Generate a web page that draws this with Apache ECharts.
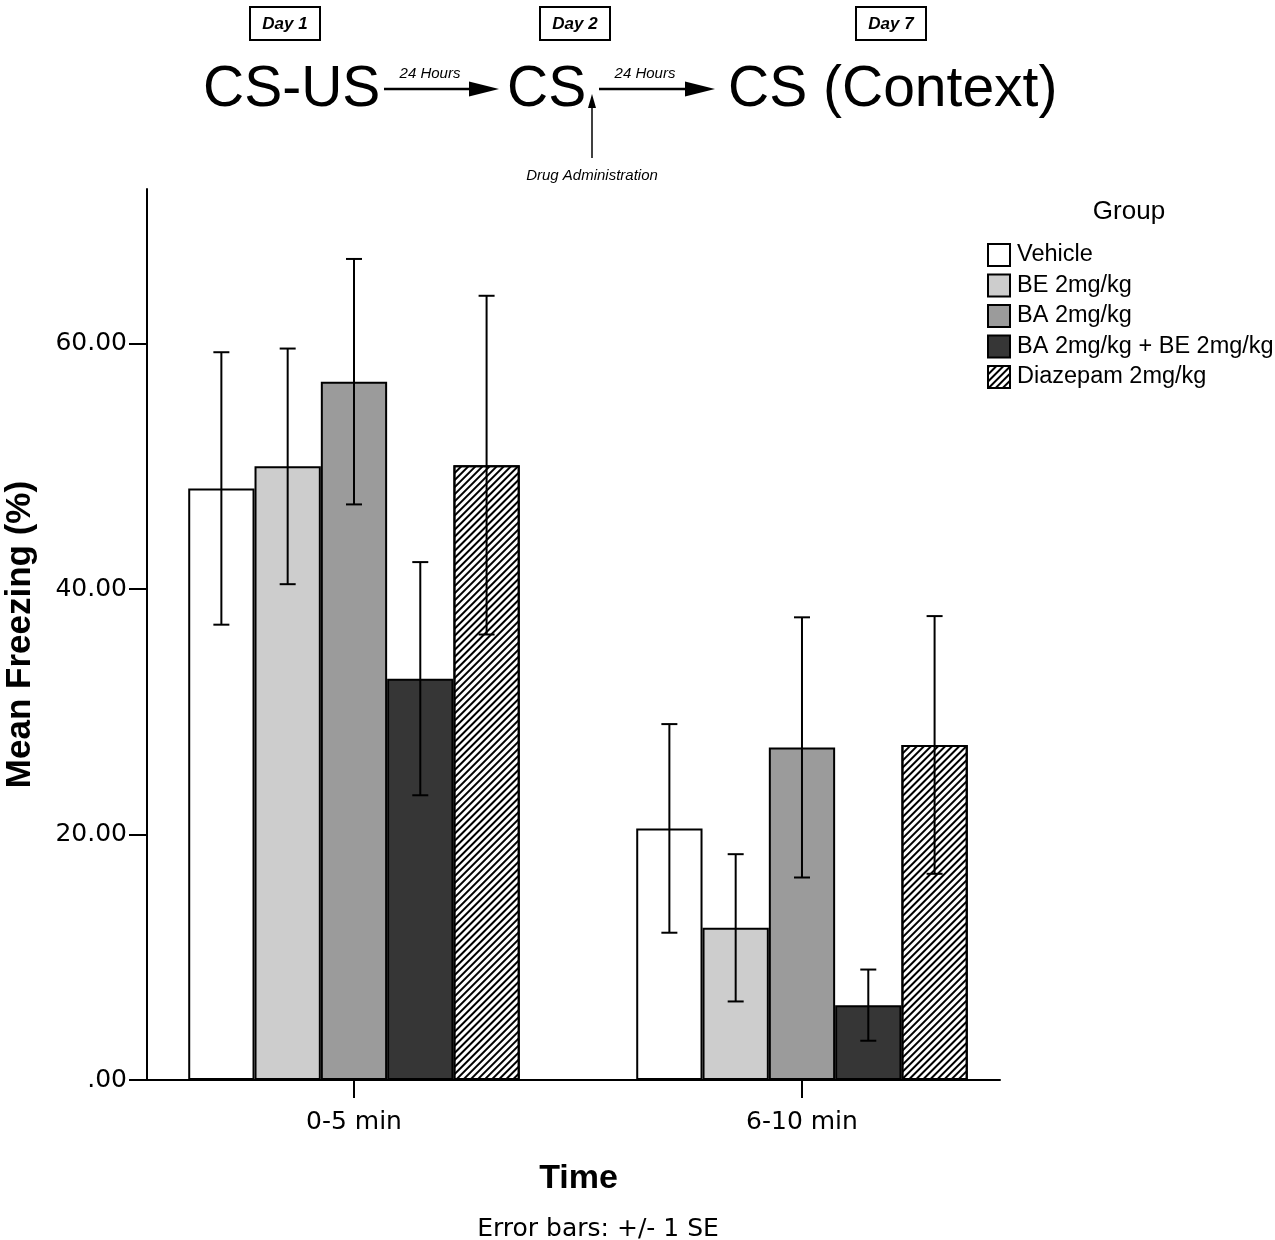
<!DOCTYPE html>
<html>
<head>
<meta charset="utf-8">
<title>Mean Freezing</title>
<script src="https://cdn.jsdelivr.net/npm/echarts@6/dist/echarts.min.js"></script>
<style>
  html, body { margin: 0; padding: 0; background: #fff; }
  #chart { width: 1275px; height: 1240px; }
</style>
</head>
<body>
<div id="chart"></div>
<script>
// ─── data ───
const timeBins = ['0-5 min', '6-10 min'];
const groups = ['Vehicle', 'BE 2mg/kg', 'BA 2mg/kg', 'BA 2mg/kg + BE 2mg/kg', 'Diazepam 2mg/kg'];

const vehicleMean = [48.2, 20.5];
const beMean = [50.0, 12.4];
const baMean = [56.9, 27.1];
const comboMean = [32.7, 6.1];
const diazepamMean = [50.1, 27.3];

const vehicleSE = [11.1, 8.5];
const beSE = [9.6, 6.0];
const baSE = [10.0, 10.6];
const comboSE = [9.5, 2.9];
const diazepamSE = [13.8, 10.5];

const yTicks = [0, 20, 40, 60];

// ─── style ───
const SANS = "'Liberation Sans', Arial, sans-serif";
const WIDE = "'DejaVu Sans', sans-serif";
const FILLS = ['#ffffff', '#cdcdcd', '#9b9b9b', '#363636', '#ffffff'];
const GAP = 0.26;           // barCategoryGap
const NG = groups.length;

const means = [vehicleMean, beMean, baMean, comboMean, diazepamMean];
const ses = [vehicleSE, beSE, baSE, comboSE, diazepamSE];

const hatch = {
  symbol: 'rect',
  symbolSize: 1,
  color: '#000',
  dashArrayX: [1, 0],
  dashArrayY: [2, 3],
  rotation: -Math.PI / 4,
};

function errorItem(gi) {
  return function (params, api) {
    const x = api.value(0), m = api.value(1), se = api.value(2);
    const band = api.size([1, 0])[0];
    const barW = band * (1 - GAP) / NG;
    const cx = api.coord([x, m])[0] + (gi - (NG - 1) / 2) * barW;
    const top = api.coord([x, m + se])[1];
    const bot = api.coord([x, m - se])[1];
    const half = 8;
    const style = { stroke: '#000', lineWidth: 2 };
    return {
      type: 'group',
      children: [
        { type: 'line', shape: { x1: cx, y1: top, x2: cx, y2: bot }, style },
        { type: 'line', shape: { x1: cx - half, y1: top, x2: cx + half, y2: top }, style },
        { type: 'line', shape: { x1: cx - half, y1: bot, x2: cx + half, y2: bot }, style },
      ],
    };
  };
}

const barSeries = groups.map((name, gi) => ({
  name,
  type: 'bar',
  barGap: '0%',
  barCategoryGap: (GAP * 100) + '%',
  data: timeBins.map((_, ti) => [ti, means[gi][ti]]),
  itemStyle: {
    color: FILLS[gi],
    borderColor: '#000',
    borderWidth: 2,
    decal: gi === 4 ? hatch : undefined,
  },
  emphasis: { disabled: true },
}));

const errSeries = groups.map((name, gi) => ({
  type: 'custom',
  name: name + ' SE',
  z: 5,
  renderItem: errorItem(gi),
  data: timeBins.map((_, ti) => [ti, means[gi][ti], ses[gi][ti]]),
  encode: { x: 0, y: 1 },
}));

// ─── top schematic ───
function dayBox(cx, label) {
  return [
    { type: 'rect', shape: { x: cx - 35, y: 7, width: 70, height: 33 },
      style: { fill: '#fff', stroke: '#000', lineWidth: 2 } },
    { type: 'text', x: cx, y: 24,
      style: { text: label, font: "italic bold 17px " + SANS, fill: '#000', align: 'center', verticalAlign: 'middle' } },
  ];
}
function bigText(x, t) {
  return { type: 'text', x, y: 90,
    style: { text: t, font: "57px " + SANS, fill: '#000', align: 'left', verticalAlign: 'middle' } };
}
function arrow(x1, x2, y) {
  return [
    { type: 'line', shape: { x1, y1: y, x2: x2 - 28, y2: y }, style: { stroke: '#000', lineWidth: 2.5 } },
    { type: 'polygon', shape: { points: [[x2 - 30, y - 7.5], [x2, y], [x2 - 30, y + 7.5]] }, style: { fill: '#000' } },
  ];
}
function smallItalic(cx, y, t) {
  return { type: 'text', x: cx, y,
    style: { text: t, font: "italic 15px " + SANS, fill: '#000', align: 'center', verticalAlign: 'middle' } };
}

const graphics = [].concat(
  dayBox(285, 'Day 1'), dayBox(575, 'Day 2'), dayBox(891, 'Day 7'),
  [bigText(203, 'CS-US'), bigText(507, 'CS'), bigText(728, 'CS (Context)')],
  arrow(384, 499, 89), arrow(599, 715, 89),
  [smallItalic(430, 74, '24 Hours'), smallItalic(645, 74, '24 Hours')],
  [
    { type: 'line', shape: { x1: 592, y1: 158, x2: 592, y2: 106 }, style: { stroke: '#000', lineWidth: 1.5 } },
    { type: 'polygon', shape: { points: [[588, 108], [592, 94], [596, 108]] }, style: { fill: '#000' } },
    smallItalic(592, 176, 'Drug Administration'),
    { type: 'text', x: 1129, y: 212,
      style: { text: 'Group', font: "26px " + SANS, fill: '#000', align: 'center', verticalAlign: 'middle' } },
    { type: 'text', x: 598, y: 1229,
      style: { text: 'Error bars: +/- 1 SE', font: "25px " + WIDE, fill: '#000', align: 'center', verticalAlign: 'middle' } },
  ]
);

const chart = echarts.init(document.getElementById('chart'), null, { renderer: 'canvas' });
chart.setOption({
  backgroundColor: '#ffffff',
  animation: false,
  aria: { enabled: false },
  grid: { left: 147, right: 275, top: 189, bottom: 160, containLabel: false, outerBoundsMode: 'none' },
  legend: {
    orient: 'vertical',
    left: 987,
    top: 243,
    padding: 0,
    itemWidth: 22,
    itemHeight: 22,
    itemGap: 6.5,
    icon: 'rect',
    selectedMode: false,
    data: groups,
    textStyle: { fontFamily: SANS, fontSize: 23.5, color: '#000', padding: [0, 0, 0, 2] },
  },
  xAxis: {
    type: 'value',
    min: -0.462,
    max: 1.442,
    name: 'Time',
    nameLocation: 'middle',
    nameGap: 82,
    nameTextStyle: { fontFamily: SANS, fontWeight: 'bold', fontSize: 34, color: '#000', padding: [0, 0, 0, 10] },
    axisLine: { onZero: false, lineStyle: { color: '#000', width: 2 } },
    axisTick: { show: true, customValues: [0, 1], length: 18, lineStyle: { color: '#000', width: 2 } },
    axisLabel: {
      customValues: [0, 1],
      formatter: (v) => timeBins[Math.round(v)],
      margin: 30,
      fontFamily: WIDE, fontSize: 25, color: '#000',
    },
    splitLine: { show: false },
  },
  yAxis: {
    type: 'value',
    min: 0,
    max: 72.6,
    name: 'Mean Freezing (%)',
    nameLocation: 'middle',
    nameGap: 109,
    nameMoveOverlap: false,
    nameTextStyle: { fontFamily: SANS, fontWeight: 'bold', fontSize: 35, color: '#000' },
    axisLine: { show: true, onZero: false, lineStyle: { color: '#000', width: 2 } },
    axisTick: { show: true, customValues: yTicks, length: 18, lineStyle: { color: '#000', width: 2 } },
    axisLabel: {
      customValues: yTicks,
      formatter: (v) => (v === 0 ? '.00' : v.toFixed(2)),
      margin: 20,
      fontFamily: WIDE, fontSize: 25, color: '#000',
    },
    splitLine: { show: false },
  },
  graphic: graphics,
  series: barSeries.concat(errSeries),
});
</script>
</body>
</html>
